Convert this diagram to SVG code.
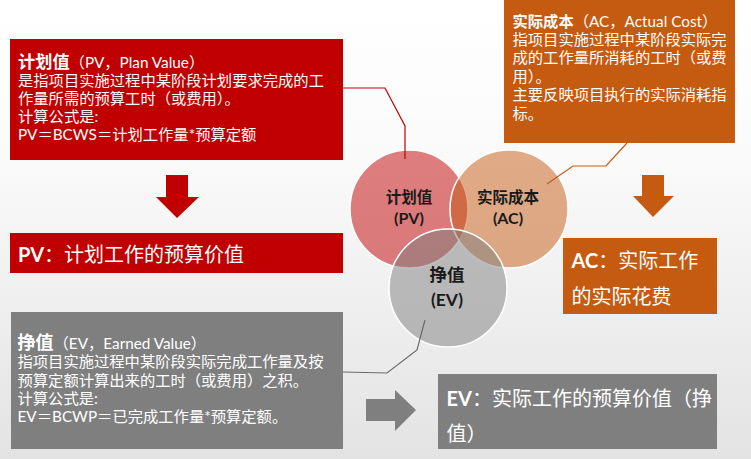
<svg xmlns="http://www.w3.org/2000/svg" width="751" height="459" viewBox="0 0 751 459">
<defs>
<linearGradient id="bg" x1="0" y1="0" x2="0" y2="1">
<stop offset="0" stop-color="#ffffff"/>
<stop offset="0.35" stop-color="#fafafa"/>
<stop offset="1" stop-color="#e3e3e3"/>
</linearGradient>
<style>
text{font-family:Lato,"Noto Sans CJK SC",sans-serif;}
.bt{fill:#ffffff;font-size:15.3px;}
.rt{fill:#ffffff;font-size:20px;}
.b{font-weight:bold;}
.ct{fill:#1a1a1a;font-weight:bold;text-anchor:middle;}
.lead{fill:none;stroke-width:1.2;}
.circ{stroke:#ffffff;stroke-width:1.5;}
</style>
</defs>
<rect x="0" y="0" width="751" height="459" fill="url(#bg)"/>

<g id="circle-pv">
<circle class="circ" cx="409" cy="209" r="59" fill="#C00000" fill-opacity="0.5"/>
</g>
<g id="circle-ac">
<circle class="circ" cx="509" cy="209" r="59" fill="#C55A11" fill-opacity="0.5"/>
</g>
<g id="circle-ev">
<circle class="circ" cx="448" cy="288" r="59" fill="#7F7F7F" fill-opacity="0.5"/>
</g>
<g id="circle-labels">
<text class="ct" x="409" y="202.5" font-size="15.5">计划值</text>
<text class="ct" x="409" y="224" font-size="16">(PV)</text>
<text class="ct" x="508" y="202.5" font-size="15.5">实际成本</text>
<text class="ct" x="508" y="224" font-size="16">(AC)</text>
<text class="ct" x="447" y="281" font-size="17.5">挣值</text>
<text class="ct" x="447" y="306" font-size="17.5">(EV)</text>
</g>

<g id="connectors">
<polyline class="lead" stroke="#C00000" points="343,88 385,88 405,126 405,159"/>
<polyline class="lead" stroke="#C55A11" points="547,184 573,166 606,166 627,143"/>
<polyline class="lead" stroke="#6a6a6a" points="343,372 387,373 417,350 425,320"/>
<polygon id="arrow-pv" fill="#C00000" points="166,175 188,175 188,197 199,197 177,218 156,197 166,197"/>
<polygon id="arrow-ac" fill="#C55A11" points="642,175 664,175 664,196 674,196 653,217 633,196 642,196"/>
<polygon id="arrow-ev" fill="#7F7F7F" points="366,399 395,399 395,390 416,410 395,431 395,421 366,421"/>
</g>

<g id="pv-box">
<rect x="10" y="39" width="333" height="121" fill="#C00000"/>
<text class="bt" x="18" y="67.5"><tspan class="b" font-size="17.2px">计划值</tspan>（PV，Plan Value）</text>
<text class="bt" x="18" y="85.5">是指项目实施过程中某阶段计划要求完成的工</text>
<text class="bt" x="18" y="103.5">作量所需的预算工时（或费用）。</text>
<text class="bt" x="18" y="121.5">计算公式是:</text>
<text class="bt" x="18" y="140">PV＝BCWS＝计划工作量*预算定额</text>
</g>

<g id="ac-box">
<rect x="504" y="0" width="231" height="143" fill="#C55A11"/>
<text class="bt" x="512.5" y="26.5"><tspan class="b">实际成本</tspan>（AC，Actual Cost）</text>
<text class="bt" x="512.5" y="45">指项目实施过程中某阶段实际完</text>
<text class="bt" x="512.5" y="63">成的工作量所消耗的工时（或费</text>
<text class="bt" x="512.5" y="81.5">用）。</text>
<text class="bt" x="512.5" y="100">主要反映项目执行的实际消耗指</text>
<text class="bt" x="512.5" y="118.5">标。</text>
</g>

<g id="ev-box">
<rect x="11" y="312" width="332" height="137" fill="#7F7F7F"/>
<text class="bt" x="17.5" y="348.5"><tspan class="b" font-size="18px">挣值</tspan>（EV，Earned Value）</text>
<text class="bt" x="17.5" y="367">指项目实施过程中某阶段实际完成工作量及按</text>
<text class="bt" x="17.5" y="385.5">预算定额计算出来的工时（或费用）之积。</text>
<text class="bt" x="17.5" y="403.5">计算公式是:</text>
<text class="bt" x="17.5" y="422">EV＝BCWP＝已完成工作量*预算定额。</text>
</g>

<g id="pv-result">
<rect x="10" y="233" width="333" height="40" fill="#C00000"/>
<text class="rt" x="18" y="262"><tspan class="b">PV</tspan>：计划工作的预算价值</text>
</g>

<g id="ac-result">
<rect x="563" y="238" width="154" height="76" fill="#C55A11"/>
<text class="rt" x="571.5" y="268"><tspan class="b">AC</tspan>：实际工作</text>
<text class="rt" x="571.5" y="304">的实际花费</text>
</g>

<g id="ev-result">
<rect x="438" y="374" width="279" height="75" fill="#7F7F7F"/>
<text class="rt" x="446.5" y="406"><tspan class="b">EV</tspan>：实际工作的预算价值（挣</text>
<text class="rt" x="446.5" y="441">值）</text>
</g>
</svg>
